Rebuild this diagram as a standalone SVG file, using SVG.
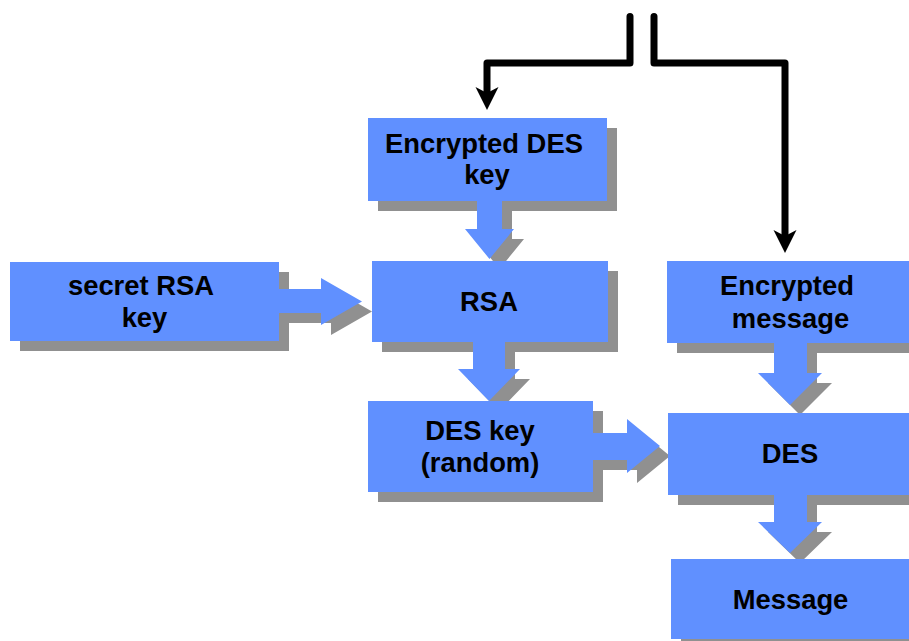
<svg xmlns="http://www.w3.org/2000/svg" width="909" height="641" viewBox="0 0 909 641">
  <style>
    .box { fill: #6090ff; }
    .shadow { fill: #909090; }
    .blk { fill: #6090ff; }
    .lbl { font-family: "Liberation Sans", Arial, sans-serif; font-weight: bold; font-size: 27.4px; fill: #000; text-anchor: middle; }
    .wire { fill: none; stroke: #000; stroke-width: 7; stroke-linecap: round; stroke-linejoin: round; }
  </style>
  <defs>
    <marker id="ah" markerUnits="userSpaceOnUse" markerWidth="24" markerHeight="24" viewBox="0 0 24 24" refX="6" refY="12" orient="auto">
      <path d="M0,0.5 L23,12 L0,23.5 L6,12 Z" fill="#000"/>
    </marker>
    <polygon id="a1" points="477,195 502,195 502,229 514,229 489.5,259 465,229 477,229"/>
    <polygon id="a2" points="473,335 505,335 505,369 520,369 489,401 458,369 473,369"/>
    <polygon id="a3" points="272,289 321,289 321,278 362,301.5 321,325 321,313 272,313"/>
    <polygon id="a4" points="586,433 627,433 627,419 660,446 627,473 627,460 586,460"/>
    <polygon id="a5" points="774,337 807,337 807,373 822,373 790,405 758,373 774,373"/>
    <polygon id="a6" points="774,489 807,489 807,522 822,522 790,553 758,522 774,522"/>
  </defs>

  <g id="shadows" class="shadow" transform="translate(10,10)">
    <rect x="368" y="118" width="239" height="83"/>
    <rect x="10" y="262" width="269" height="79"/>
    <rect x="372" y="261" width="236" height="81"/>
    <rect x="368" y="401" width="225" height="91"/>
    <rect x="667" y="261" width="250" height="82"/>
    <rect x="668" y="413" width="250" height="82"/>
    <rect x="671" y="559" width="250" height="80"/>
    <use href="#a1"/>
    <use href="#a2"/>
    <use href="#a3"/>
    <use href="#a4"/>
    <use href="#a5"/>
    <use href="#a6"/>
  </g>

  <g id="connectors">
    <path class="wire" d="M630,16.5 V63 H487 V93" marker-end="url(#ah)"/>
    <path class="wire" d="M654,16.5 V63 H785 V236" marker-end="url(#ah)"/>
    <use class="blk" href="#a1"/>
    <use class="blk" href="#a2"/>
    <use class="blk" href="#a3"/>
    <use class="blk" href="#a4"/>
    <use class="blk" href="#a5"/>
    <use class="blk" href="#a6"/>
  </g>

  <g id="encrypted-des-key">
    <rect class="box" x="368" y="118" width="239" height="83"/>
    <text class="lbl" x="484" y="153">Encrypted DES</text>
    <text class="lbl" x="487" y="184">key</text>
  </g>
  <g id="secret-rsa-key">
    <rect class="box" x="10" y="262" width="269" height="79"/>
    <text class="lbl" x="141" y="295">secret RSA</text>
    <text class="lbl" x="144.5" y="327">key</text>
  </g>
  <g id="rsa">
    <rect class="box" x="372" y="261" width="236" height="81"/>
    <text class="lbl" x="489" y="311">RSA</text>
  </g>
  <g id="des-key-random">
    <rect class="box" x="368" y="401" width="225" height="91"/>
    <text class="lbl" x="480" y="440">DES key</text>
    <text class="lbl" x="480" y="472">(random)</text>
  </g>
  <g id="encrypted-message">
    <rect class="box" x="667" y="261" width="250" height="82"/>
    <text class="lbl" x="787" y="295">Encrypted</text>
    <text class="lbl" x="790.5" y="328">message</text>
  </g>
  <g id="des">
    <rect class="box" x="668" y="413" width="250" height="82"/>
    <text class="lbl" x="790" y="463">DES</text>
  </g>
  <g id="message">
    <rect class="box" x="671" y="559" width="250" height="80"/>
    <text class="lbl" x="790.5" y="609">Message</text>
  </g>
</svg>
